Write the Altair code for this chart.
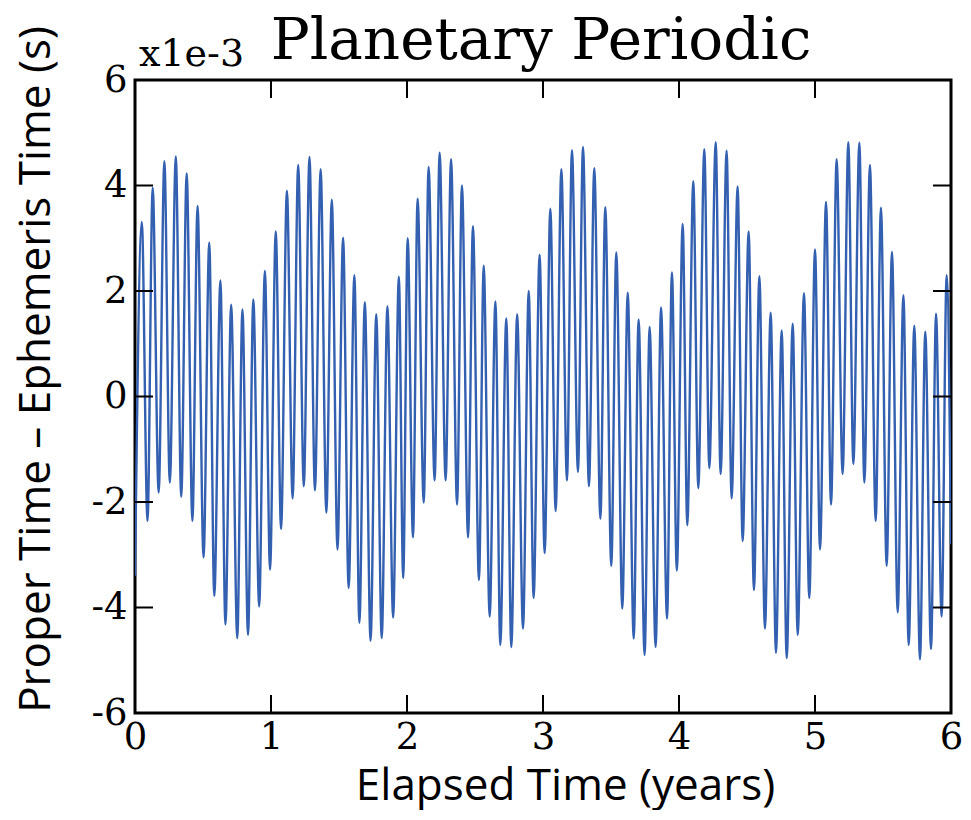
import altair as alt
import pandas as pd

# Elapsed time (years) of each turning point of the curve
t_years = [
    0.000, 0.050, 0.092, 0.130, 0.174, 0.216, 0.256, 0.300, 0.340, 0.380,
    0.422, 0.460, 0.504, 0.546, 0.583, 0.628, 0.665, 0.707, 0.752, 0.790,
    0.831, 0.870, 0.913, 0.955, 0.993, 1.035, 1.074, 1.117, 1.159, 1.200,
    1.241, 1.283, 1.323, 1.365, 1.407, 1.447, 1.489, 1.530, 1.571, 1.613,
    1.650, 1.690, 1.732, 1.774, 1.814, 1.856, 1.898, 1.940, 1.972, 2.005,
    2.044, 2.078, 2.123, 2.159, 2.203, 2.240, 2.284, 2.324, 2.368, 2.404,
    2.449, 2.485, 2.529, 2.564, 2.608, 2.650, 2.686, 2.730, 2.767, 2.810,
    2.853, 2.895, 2.931, 2.975, 3.012, 3.054, 3.093, 3.135, 3.176, 3.213,
    3.257, 3.294, 3.338, 3.377, 3.422, 3.458, 3.502, 3.539, 3.583, 3.623,
    3.667, 3.703, 3.747, 3.784, 3.828, 3.868, 3.912, 3.948, 3.984, 4.027,
    4.061, 4.105, 4.142, 4.186, 4.223, 4.270, 4.306, 4.350, 4.387, 4.431,
    4.468, 4.512, 4.551, 4.591, 4.632, 4.674, 4.713, 4.755, 4.792, 4.836,
    4.873, 4.919, 4.958, 5.000, 5.037, 5.081, 5.118, 5.159, 5.203, 5.245,
    5.282, 5.326, 5.363, 5.404, 5.446, 5.485, 5.527, 5.566, 5.608, 5.650,
    5.689, 5.730, 5.772, 5.811, 5.853, 5.890, 5.931, 5.968, 6.000,
]

# Proper time - ephemeris time (x1e-3 s) at those points
dt_ms = [
    -3.40, 3.31, -2.36, 3.96, -1.82, 4.46, -1.63, 4.55, -1.90, 4.23,
    -2.36, 3.61, -3.05, 2.92, -3.78, 2.20, -4.32, 1.74, -4.58, 1.65,
    -4.52, 1.84, -3.98, 2.38, -3.28, 3.13, -2.51, 3.90, -1.93, 4.39,
    -1.70, 4.54, -1.78, 4.31, -2.20, 3.73, -2.90, 3.01, -3.63, 2.30,
    -4.29, 1.79, -4.63, 1.56, -4.58, 1.71, -4.19, 2.27, -3.44, 3.00,
    -2.67, 3.75, -2.01, 4.35, -1.59, 4.62, -1.59, 4.50, -2.05, 4.00,
    -2.67, 3.23, -3.48, 2.48, -4.17, 1.80, -4.71, 1.48, -4.75, 1.56,
    -4.40, 2.00, -3.82, 2.69, -2.97, 3.56, -2.17, 4.31, -1.59, 4.67,
    -1.43, 4.73, -1.70, 4.33, -2.32, 3.59, -3.21, 2.73, -4.02, 1.97,
    -4.59, 1.46, -4.90, 1.32, -4.75, 1.69, -4.21, 2.35, -3.30, 3.27,
    -2.44, 4.08, -1.74, 4.69, -1.36, 4.82, -1.47, 4.66, -1.93, 3.98,
    -2.74, 3.13, -3.67, 2.28, -4.40, 1.59, -4.86, 1.25, -4.96, 1.38,
    -4.52, 1.96, -3.82, 2.79, -2.90, 3.69, -2.05, 4.50, -1.47, 4.82,
    -1.28, 4.81, -1.63, 4.39, -2.36, 3.58, -3.21, 2.74, -4.09, 1.92,
    -4.71, 1.34, -4.98, 1.23, -4.79, 1.57, -4.17, 2.30, -2.80,
]

x_ticks = [0, 1, 2, 3, 4, 5, 6]
y_ticks = [-6, -4, -2, 0, 2, 4, 6]
x_inner_ticks = [1, 2, 3, 4, 5]
y_inner_ticks = [-4, -2, 0, 2, 4]

W, H = 816, 633
TICK = 18
SERIF = "DejaVu Serif"
SANS = "Open Sans"

df = pd.DataFrame({"t": t_years, "v": dt_ms})
xdf = pd.DataFrame({"x": x_inner_ticks})
ydf = pd.DataFrame({"y": y_inner_ticks})

xscale = alt.Scale(domain=[0, 6], nice=False, zero=False)
yscale = alt.Scale(domain=[-6, 6], nice=False, zero=False)

line = alt.Chart(df).mark_line(
    color="#3360b0", strokeWidth=2.4, interpolate="monotone", clip=True
).encode(
    x=alt.X("t:Q", scale=xscale, axis=alt.Axis(
        values=x_ticks, labelExpr="'' + datum.value",
        labelFont=SERIF, labelFontSize=37, labelColor="black",
        labelPadding=6, labelFlush=False, labelOverlap=False,
        title="Elapsed Time (years)", titleFont=SANS, titleFontSize=44,
        titleFontWeight="normal", titleColor="black",
        titleX=430, titleY=86, titleAlign="center", titleBaseline="alphabetic",
    )),
    y=alt.Y("v:Q", scale=yscale, axis=alt.Axis(
        values=y_ticks, labelExpr="'' + datum.value",
        labelFont=SERIF, labelFontSize=37, labelColor="black",
        labelPadding=8, labelFlush=False, labelOverlap=False,
        title="Proper Time \u2013 Ephemeris Time (s)", titleFont=SANS,
        titleFontSize=44, titleFontWeight="normal", titleColor="black",
        titleX=-86, titleY=289, titleAlign="center", titleBaseline="alphabetic",
    )),
)

tick_style = dict(color="black", strokeWidth=2)
bottom_ticks = alt.Chart(xdf).mark_rule(**tick_style).encode(
    x=alt.X("x:Q", scale=xscale), y=alt.value(H), y2=alt.value(H - TICK))
top_ticks = alt.Chart(xdf).mark_rule(**tick_style).encode(
    x=alt.X("x:Q", scale=xscale), y=alt.value(0), y2=alt.value(TICK))
left_ticks = alt.Chart(ydf).mark_rule(**tick_style).encode(
    y=alt.Y("y:Q", scale=yscale), x=alt.value(0), x2=alt.value(TICK))
right_ticks = alt.Chart(ydf).mark_rule(**tick_style).encode(
    y=alt.Y("y:Q", scale=yscale), x=alt.value(W), x2=alt.value(W - TICK))

exponent = alt.Chart(pd.DataFrame({"s": ["x1e-3"]})).mark_text(
    font=SERIF, fontSize=38, align="left", baseline="alphabetic", color="black"
).encode(x=alt.value(4), y=alt.value(-14), text="s:N")

title = alt.Chart(pd.DataFrame({"s": ["Planetary Periodic"]})).mark_text(
    font=SERIF, fontSize=58, align="center", baseline="alphabetic", color="black"
).encode(x=alt.value(W / 2 - 2), y=alt.value(-21), text="s:N")

chart = alt.layer(
    line, bottom_ticks, top_ticks, left_ticks, right_ticks, exponent, title
).properties(
    width=W, height=H,
    autosize=alt.AutoSizeParams(type="none"),
    padding={"left": 127, "top": 72, "right": 11, "bottom": 97},
    background="white",
).configure_view(
    stroke="black", strokeWidth=3
).configure_axis(
    grid=False, domain=False, ticks=False
)

chart.save("out.html", embed_options={"renderer": "svg", "actions": False})
